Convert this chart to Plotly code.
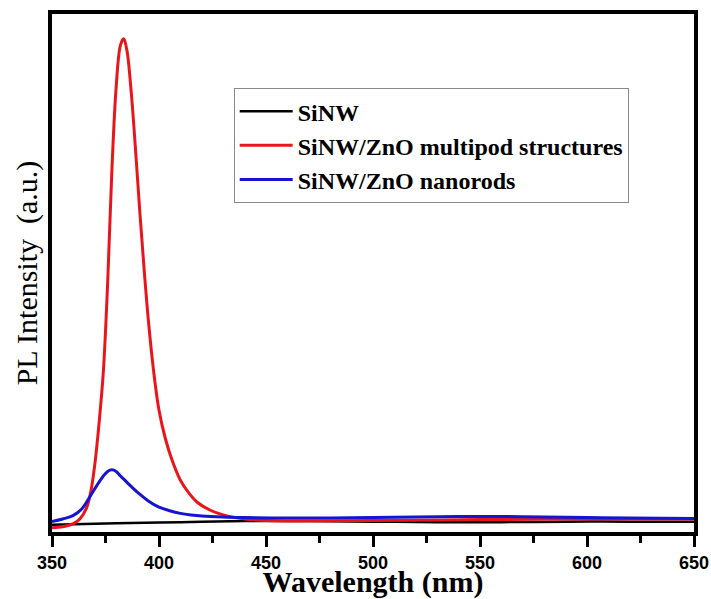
import plotly.graph_objects as go

# ---- data ----
black_wl = [350, 380, 410, 440, 470, 500, 530, 560, 590, 620, 650]
black_val = [0.014, 0.017, 0.019, 0.021, 0.021, 0.020, 0.019, 0.019, 0.020, 0.020, 0.020]

red_wl = [350, 355, 360, 363, 366, 368, 370, 372, 374, 376, 378, 380, 382, 383.5, 385, 387,
          389, 391, 393, 395, 397.5, 400, 403, 406, 410, 414, 418, 424, 430, 440, 450, 470,
          500, 550, 600, 650]
red_val = [0.008, 0.010, 0.016, 0.025, 0.045, 0.075, 0.13, 0.21, 0.31, 0.48, 0.70, 0.86, 0.94,
           0.952, 0.93, 0.85, 0.74, 0.62, 0.51, 0.41, 0.31, 0.235, 0.18, 0.14, 0.10, 0.075,
           0.057, 0.042, 0.033, 0.025, 0.022, 0.021, 0.022, 0.024, 0.025, 0.025]

blue_wl = [350, 355, 360, 364, 368, 371, 374, 376, 378, 380, 382, 384, 387, 391, 395, 400, 405,
           410, 415, 420, 430, 440, 460, 480, 500, 520, 540, 560, 580, 600, 620, 650]
blue_val = [0.020, 0.025, 0.032, 0.045, 0.070, 0.090, 0.108, 0.117, 0.120, 0.117, 0.108, 0.100,
            0.088, 0.073, 0.060, 0.048, 0.041, 0.036, 0.033, 0.031, 0.029, 0.028, 0.027, 0.027,
            0.028, 0.029, 0.030, 0.030, 0.029, 0.028, 0.027, 0.026]

names = ["SiNW", "SiNW/ZnO multipod structures", "SiNW/ZnO nanorods"]
x_ticks = [350, 400, 450, 500, 550, 600, 650]

fig = go.Figure()
fig.add_trace(go.Scatter(x=black_wl, y=black_val, mode="lines", name=names[0],
                         line=dict(color="#000000", width=2.5, shape="spline", smoothing=1)))
fig.add_trace(go.Scatter(x=red_wl, y=red_val, mode="lines", name=names[1],
                         line=dict(color="#e8161b", width=3, shape="spline", smoothing=1)))
fig.add_trace(go.Scatter(x=blue_wl, y=blue_val, mode="lines", name=names[2],
                         line=dict(color="#1414d2", width=3, shape="spline", smoothing=1)))

fig.update_layout(
    width=711, height=599,
    margin=dict(l=52, r=17, t=14, b=67, autoexpand=False),
    paper_bgcolor="white", plot_bgcolor="white",
    showlegend=True,
    legend=dict(x=0.283, y=0.857, xanchor="left", yanchor="top",
                bordercolor="#888888", borderwidth=1, bgcolor="white",
                font=dict(family="Liberation Serif", size=24, color="black", weight="bold"),
                itemwidth=53, tracegroupgap=0),
    xaxis=dict(range=[350, 650], tickvals=x_ticks, ticktext=[str(v) for v in x_ticks],
               showgrid=False, zeroline=False, automargin=False,
               showline=True, linecolor="black", linewidth=4, mirror=True,
               ticks="outside", ticklen=11, tickwidth=3, tickcolor="black",
               ticklabeloverflow="allow", ticklabelstandoff=0,
               minor=dict(dtick=25, ticks="outside", ticklen=7, tickwidth=3, tickcolor="black"),
               tickfont=dict(family="Liberation Sans", size=18, color="black", weight="bold"),
               title=dict(text="Wavelength (nm)", standoff=27,
                          font=dict(family="Liberation Serif", size=30, color="black", weight="bold"))),
    yaxis=dict(range=[0, 1], showticklabels=False, showgrid=False, zeroline=False,
               showline=True, linecolor="black", linewidth=4, mirror=True, ticks="",
               automargin=False,
               title=dict(text="PL Intensity  (a.u.)", standoff=3,
                          font=dict(family="Liberation Serif", size=30, color="black"))),
)

fig.write_html("out.html", config={"displayModeBar": False},
               post_script="document.body.style.margin='0';document.body.style.overflow='hidden';")
